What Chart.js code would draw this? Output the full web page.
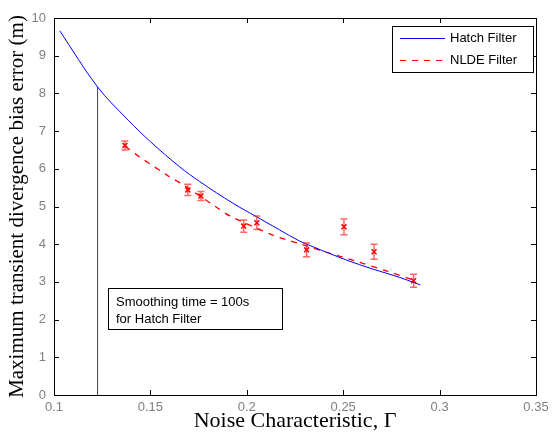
<!DOCTYPE html>
<html>
<head>
<meta charset="utf-8">
<script src="https://cdn.jsdelivr.net/npm/chart.js@4.4.1/dist/chart.umd.min.js"></script>
<style>
    html, body { margin: 0; padding: 0; background: #ffffff; }
</style>
</head>
<body>
<canvas id="chart" width="554" height="435"></canvas>
<script>
// Hatch filter curve
const hatchX = [0.103, 0.1226, 0.1385, 0.15, 0.165, 0.1756, 0.193, 0.205, 0.217, 0.2275, 0.2344, 0.2517, 0.2654, 0.2793, 0.29];
const hatchY = [9.66, 8.17, 7.29, 6.72, 6.06, 5.66, 5.08, 4.73, 4.38, 4.08, 3.93, 3.58, 3.34, 3.12, 2.92];

// NLDE filter dashed trend
const fitX = [0.137, 0.1434, 0.1584, 0.1668, 0.1843, 0.1912, 0.2135, 0.2206, 0.2275, 0.243, 0.2585, 0.2724, 0.288];
const fitY = [6.6, 6.35, 5.84, 5.58, 4.98, 4.75, 4.24, 4.12, 4.01, 3.76, 3.52, 3.29, 3.02];

// NLDE measured points with error bars
const nldeX = [0.1368, 0.1694, 0.1762, 0.1984, 0.2052, 0.231, 0.2504, 0.266, 0.2865];
const nldeY = [6.62, 5.44, 5.28, 4.48, 4.57, 3.85, 4.46, 3.80, 3.03];
const nldeErr = [0.12, 0.15, 0.12, 0.16, 0.18, 0.18, 0.21, 0.2, 0.17];

// smoothing time marker
const markX = [0.1226, 0.1226];
const markY = [0, 8.17];

const xTickLabels = ['0.1', '0.15', '0.2', '0.25', '0.3', '0.35'];
const noteLines = ['Smoothing time = 100s', 'for Hatch Filter'];

Chart.defaults.font.family = 'Liberation Sans';

function pts(xs, ys) {
    return xs.map((x, i) => ({ x: x, y: ys[i] }));
}

const framePlugin = {
    id: 'frame',
    afterDatasetsDraw(chart) {
        const ctx = chart.ctx;
        const sx = chart.scales.x;
        const sy = chart.scales.y;

        // error bars
        ctx.save();
        ctx.strokeStyle = 'rgba(255,0,0,0.6)';
        ctx.lineWidth = 1.5;
        nldeX.forEach((x, i) => {
            const px = sx.getPixelForValue(x);
            const t = sy.getPixelForValue(nldeY[i] + nldeErr[i]);
            const b = sy.getPixelForValue(nldeY[i] - nldeErr[i]);
            ctx.beginPath();
            ctx.moveTo(px, t); ctx.lineTo(px, b);
            ctx.moveTo(px - 3.5, t); ctx.lineTo(px + 3.5, t);
            ctx.moveTo(px - 3.5, b); ctx.lineTo(px + 3.5, b);
            ctx.stroke();
        });
        ctx.restore();
    },
    afterDraw(chart) {
        const ctx = chart.ctx;
        const a = chart.chartArea;
        const sx = chart.scales.x;
        const sy = chart.scales.y;

        ctx.save();
        ctx.strokeStyle = '#000';
        ctx.lineWidth = 1;
        ctx.strokeRect(Math.round(a.left) + 0.5, Math.round(a.top) + 0.5, Math.round(a.width), Math.round(a.height));

        // inward ticks on all four sides
        ctx.beginPath();
        sx.ticks.forEach(t => {
            const px = Math.round(sx.getPixelForValue(t.value)) + 0.5;
            ctx.moveTo(px, a.bottom); ctx.lineTo(px, a.bottom - 5);
            ctx.moveTo(px, a.top); ctx.lineTo(px, a.top + 5);
        });
        sy.ticks.forEach(t => {
            const py = Math.round(sy.getPixelForValue(t.value)) + 0.5;
            ctx.moveTo(a.left, py); ctx.lineTo(a.left + 5, py);
            ctx.moveTo(a.right, py); ctx.lineTo(a.right - 5, py);
        });
        ctx.stroke();

        // annotation box
        const bx = sx.getPixelForValue(0.128);
        const by = sy.getPixelForValue(2.83);
        ctx.fillStyle = '#fff';
        ctx.fillRect(bx, by, 174, 41);
        ctx.strokeRect(Math.round(bx) + 0.5, Math.round(by) + 0.5, 174, 41);
        ctx.fillStyle = '#000';
        ctx.font = '13px "Liberation Sans"';
        ctx.textBaseline = 'alphabetic';
        noteLines.forEach((s, i) => ctx.fillText(s, bx + 8, by + 18 + i * 17));

        // legend box
        const items = chart.data.datasets.filter(d => d.label);
        const lx = a.right - 144, ly = a.top + 8;
        ctx.fillStyle = '#fff';
        ctx.fillRect(lx, ly, 141, 46);
        ctx.strokeRect(Math.round(lx) + 0.5, Math.round(ly) + 0.5, 141, 46);
        items.forEach((d, i) => {
            const yy = Math.round(ly + 12 + i * 22) + 0.5;
            ctx.beginPath();
            ctx.strokeStyle = d.borderColor;
            ctx.lineWidth = 1;
            ctx.setLineDash(d.borderDash || []);
            ctx.moveTo(lx + 8, yy); ctx.lineTo(lx + 53, yy);
            ctx.stroke();
            ctx.setLineDash([]);
            ctx.fillStyle = '#000';
            ctx.textBaseline = 'middle';
            ctx.fillText(d.label, lx + 58, yy);
        });
        ctx.restore();
    }
};

new Chart(document.getElementById('chart'), {
    type: 'line',
    data: {
        datasets: [
            {
                label: 'Hatch Filter',
                data: pts(hatchX, hatchY),
                borderColor: '#0000ff',
                borderWidth: 1,
                pointRadius: 0,
                tension: 0.35
            },
            {
                label: 'NLDE Filter',
                data: pts(fitX, fitY),
                borderColor: '#ff0000',
                borderWidth: 1.3,
                borderDash: [6, 6],
                pointRadius: 0,
                tension: 0.3
            },
            {
                label: '',
                data: pts(nldeX, nldeY),
                showLine: false,
                pointStyle: 'crossRot',
                pointRadius: 3.5,
                borderColor: '#ff0000',
                borderWidth: 1.5
            },
            {
                label: '',
                data: pts(markX, markY),
                borderColor: '#444444',
                borderWidth: 1,
                pointRadius: 0
            }
        ]
    },
    options: {
        responsive: false,
        animation: false,
        devicePixelRatio: 1,
        layout: { padding: { top: 18, right: 18, left: 0, bottom: 0 } },
        plugins: { legend: { display: false }, tooltip: { enabled: false } },
        scales: {
            x: {
                type: 'linear',
                min: 0.1,
                max: 0.35,
                afterFit: s => { s.height = 40; },
                grid: { display: false, drawTicks: false },
                border: { display: false },
                ticks: {
                    stepSize: 0.05,
                    padding: 5,
                    maxRotation: 0,
                    color: '#808080',
                    font: { size: 13 },
                    callback: (v, i) => xTickLabels[i]
                },
                title: {
                    display: true,
                    text: 'Noise Characteristic, Γ',
                    color: '#000',
                    font: { family: 'Liberation Serif', size: 22 },
                    padding: { top: 0, bottom: 1 }
                }
            },
            y: {
                min: 0,
                max: 10,
                afterFit: s => { s.width = 54; },
                grid: { display: false, drawTicks: false },
                border: { display: false },
                ticks: {
                    stepSize: 1,
                    padding: 8,
                    color: '#808080',
                    font: { size: 13 }
                },
                title: {
                    display: true,
                    text: 'Maximum transient divergence bias error (m)',
                    color: '#000',
                    font: { family: 'Liberation Serif', size: 21 },
                    padding: { top: 5, bottom: 0 }
                }
            }
        }
    },
    plugins: [framePlugin]
});
</script>
</body>
</html>
